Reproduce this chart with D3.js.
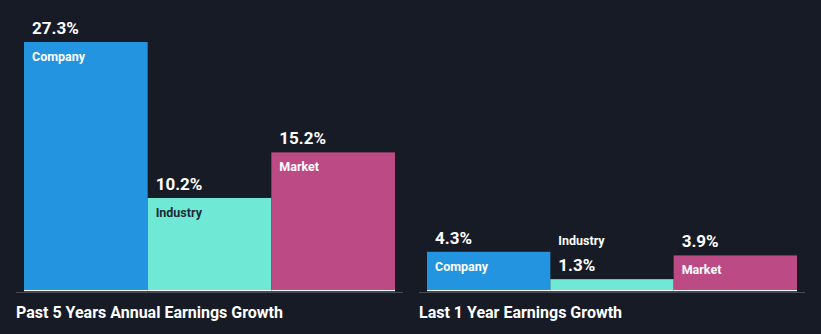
<!DOCTYPE html>
<html><head><meta charset="utf-8">
<script src="https://cdn.jsdelivr.net/npm/d3@7"></script>
<style>
html,body{margin:0;padding:0;background:#161b26;}
svg{display:block;font-family:Roboto,"Noto Sans",sans-serif;}
</style></head>
<body>
<svg id="c" width="821" height="334"></svg>
<script>
const categories = ["Company", "Industry", "Market"];
const groups = ["Past 5 Years Annual Earnings Growth", "Last 1 Year Earnings Growth"];
const past5Years = [27.3, 10.2, 15.2];
const last1Year = [4.3, 1.3, 3.9];
const valueLabels5 = ["27.3%", "10.2%", "15.2%"];
const valueLabels1 = ["4.3%", "1.3%", "3.9%"];
const colors = ["#2394df", "#6fe8d5", "#bc4a85"];
const labelColors = ["#ffffff", "#1d2b35", "#ffffff"];

const svg = d3.select("#c");
const W = 821, H = 334;
svg.append("rect").attr("width", W).attr("height", H).attr("fill", "#161b26");

const baseY = 291;
const y = d3.scaleLinear().domain([0, d3.max(past5Years)]).range([baseY, 42]);

const panels = [
  {title: groups[0], vals: past5Years, labels: valueLabels5, x0: 24, x1: 395, lx0: 16, lx1: 403},
  {title: groups[1], vals: last1Year, labels: valueLabels1, x0: 427, x1: 797, lx0: 419, lx1: 805}
];

panels.forEach(p => {
  const x = d3.scaleBand().domain(categories).range([p.x0, p.x1]).padding(0);
  const g = svg.append("g");
  g.append("line").attr("x1", p.lx0).attr("x2", p.lx1).attr("y1", baseY + 1.5).attr("y2", baseY + 1.5)
    .attr("stroke", "#474d58").attr("stroke-width", 1);
  categories.forEach((c, i) => {
    const v = p.vals[i];
    const top = y(v);
    const bx = x(c), bw = x.bandwidth();
    g.append("rect").attr("x", bx).attr("y", top).attr("width", bw).attr("height", baseY - top)
      .attr("fill", colors[i]);
    g.append("rect").attr("x", bx).attr("y", baseY - 1).attr("width", bw).attr("height", 1.2)
      .attr("fill", "#ffffff");
    const tall = (baseY - top) > 25;
    g.append("text").attr("x", bx + 8).attr("y", top - 8)
      .attr("fill", "#ffffff").attr("font-size", 17).attr("font-weight", 700).text(p.labels[i]);
    if (tall) {
      g.append("text").attr("x", bx + 8).attr("y", top + 19)
        .attr("fill", labelColors[i]).attr("font-size", 12.5).attr("font-weight", 700).text(c);
    } else {
      g.append("text").attr("x", bx + 8).attr("y", top - 34)
        .attr("fill", "#ffffff").attr("font-size", 12.5).attr("font-weight", 700).text(c);
    }
  });
  g.append("text").attr("x", p.lx0).attr("y", 318).attr("fill", "#ffffff")
    .attr("font-size", 16).attr("font-weight", 700).text(p.title);
});
</script>
</body></html>
